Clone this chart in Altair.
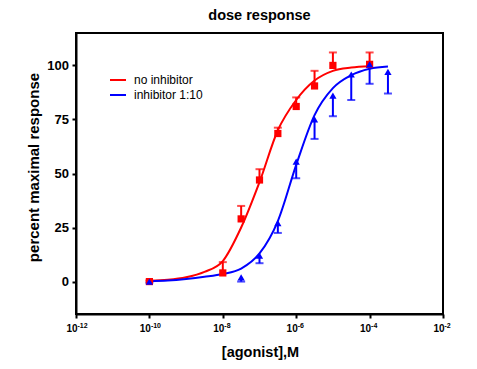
import altair as alt
import pandas as pd

# ---- data (x = log10 of agonist concentration, M) ----
series_names = ["no inhibitor", "inhibitor 1:10"]
series_colors = ["#ff0000", "#0000ff"]
series_shapes = ["square", "triangle-up"]

red_x = [-10, -8, -7.5, -7, -6.5, -6, -5.5, -5, -4]
red_y = [0, 4, 29, 47, 68.5, 81, 90.5, 100, 100.5]
red_err = [0.5, 5, 6, 5, 2.7, 4.2, 7, 6, 5.5]

blue_x = [-10, -7.5, -7, -6.5, -6, -5.5, -5, -4.5, -4, -3.5]
blue_y = [0, 2, 12, 27, 55.5, 75, 86, 95.8, 100.5, 97]
blue_err = [0.5, 2, 3.5, 4.5, 7.7, 9, 9.5, 11.8, 9, 10]

# fitted curves, every half decade
red_curve_x = [-10, -9.5, -9, -8.5, -8, -7.5, -7, -6.5, -6, -5.5, -5, -4.5, -4]
red_curve_y = [0.3, 0.8, 2, 4.5, 9.5, 25, 46, 70, 84, 93, 97.5, 99, 99.6]
blue_curve_x = [-10, -9.5, -9, -8.5, -8, -7.5, -7, -6.5, -6, -5.5, -5, -4.5, -4, -3.5]
blue_curve_y = [0.2, 0.5, 1.2, 2.2, 3.5, 6, 13, 28, 54, 77, 89.5, 95.5, 98.5, 99.5]

x_tick_values = [-12, -10, -8, -6, -4, -2]
x_tick_base = ["10", "10", "10", "10", "10", "10"]
x_tick_exp = ["-12", "-10", "-8", "-6", "-4", "-2"]
y_tick_values = [0, 25, 50, 75, 100]

# ---- tables ----
rows = []
for x, y, e in zip(red_x, red_y, red_err):
    rows.append({"series": series_names[0], "logx": x, "y": y, "lo": y, "hi": y + e, "cap": y + e})
for x, y, e in zip(blue_x, blue_y, blue_err):
    rows.append({"series": series_names[1], "logx": x, "y": y, "lo": y - e, "hi": y, "cap": y - e})
pts = pd.DataFrame(rows)

curve = pd.DataFrame(
    [{"series": series_names[0], "logx": x, "y": y} for x, y in zip(red_curve_x, red_curve_y)]
    + [{"series": series_names[1], "logx": x, "y": y} for x, y in zip(blue_curve_x, blue_curve_y)]
)

ticks = pd.DataFrame({"logx": x_tick_values, "base": x_tick_base, "exp": x_tick_exp})

FONT = "Liberation Sans"
W, H = 367, 281

x_scale = alt.Scale(domain=[-12, -2], nice=False, zero=False)
x_enc = alt.X(
    "logx:Q",
    scale=x_scale,
    axis=alt.Axis(
        values=x_tick_values, labels=False, title="[agonist],M",
        titleFontSize=14.5, titleFontWeight="bold", titleBaseline="alphabetic",
        titleX=184, titleY=42, titleAnchor="middle",
    ),
)
y_scale = alt.Scale(domain=[-15, 115], nice=False, zero=False)
y_axis = alt.Axis(
    values=y_tick_values, title="percent maximal response",
    labelFontSize=13, labelFontWeight="bold", labelPadding=3.5,
    titleFontSize=15, titleFontWeight="bold", titleBaseline="alphabetic",
    titleX=-37.5, titleY=134, titleAngle=-90, titleAlign="center",
)
color_scale = alt.Scale(domain=series_names, range=series_colors)

lines = alt.Chart(curve).mark_line(strokeWidth=2, interpolate="monotone").encode(
    x=x_enc,
    y=alt.Y("y:Q", scale=y_scale, axis=y_axis),
    color=alt.Color(
        "series:N", scale=color_scale, sort=series_names,
        legend=alt.Legend(
            title=None, orient="none", legendX=33, legendY=38, symbolType="stroke",
            symbolSize=256, symbolStrokeWidth=2, labelFontSize=12, labelOffset=7,
            rowPadding=0, padding=0, labelFont=FONT,
        ),
    ),
    detail="series:N",
)

bars = alt.Chart(pts).mark_rule(strokeWidth=2).encode(
    x="logx:Q",
    y=alt.Y("lo:Q", scale=y_scale),
    y2="hi:Q",
    color=alt.Color("series:N", scale=color_scale, legend=None),
)

caps = alt.Chart(pts).mark_tick(orient="horizontal", size=8, thickness=2).encode(
    x="logx:Q",
    y=alt.Y("cap:Q", scale=y_scale),
    color=alt.Color("series:N", scale=color_scale, legend=None),
)

points = alt.Chart(pts).mark_point(filled=True, size=52, opacity=1).encode(
    x="logx:Q",
    y=alt.Y("y:Q", scale=y_scale),
    color=alt.Color("series:N", scale=color_scale, legend=None),
    shape=alt.Shape("series:N", scale=alt.Scale(domain=series_names, range=series_shapes), legend=None),
)

tick_base = alt.Chart(ticks).mark_text(
    align="right", baseline="alphabetic", dx=1.5, fontSize=10, fontWeight="bold", color="black"
).encode(x=alt.X("logx:Q", scale=x_scale), y=alt.value(H + 18), text="base:N")

tick_exp = alt.Chart(ticks).mark_text(
    align="left", baseline="alphabetic", dx=1.5, fontSize=7, fontWeight="bold", color="black"
).encode(x=alt.X("logx:Q", scale=x_scale), y=alt.value(H + 14), text="exp:N")

chart = (
    alt.layer(lines, bars, caps, points, tick_base, tick_exp)
    .resolve_legend(color="independent", shape="independent")
    .properties(
        width=W, height=H,
        autosize=alt.AutoSizeParams(type="none"),
        padding={"left": 68, "top": 25, "right": 26, "bottom": 47},
        title=alt.TitleParams(
            "dose response", fontSize=14.5, fontWeight="bold",
            offset=10, anchor="middle", frame="group", font=FONT,
        ),
    )
    .configure(font=FONT)
    .configure_view(stroke="black", strokeWidth=2)
    .configure_axis(
        grid=False, domainColor="black", domainWidth=2, tickColor="black",
        tickWidth=2, tickSize=4, labelColor="black", titleColor="black",
        labelFont=FONT, titleFont=FONT,
    )
)

chart.save("out.html", embed_options={"renderer": "svg", "actions": False})
